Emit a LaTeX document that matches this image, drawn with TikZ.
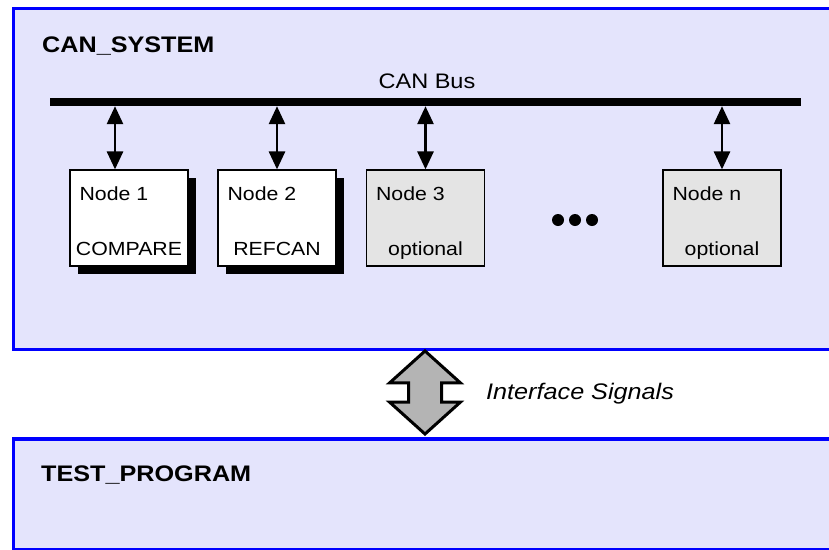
\documentclass[tikz,border=0pt]{standalone}
\usepackage{fontspec}
\setmainfont{Liberation Sans}[FakeStretch=1.12]
\usetikzlibrary{positioning,arrows.meta,shapes.arrows,shadows}
\definecolor{sysfill}{RGB}{228,228,252}
\definecolor{sysline}{RGB}{0,0,255}
\definecolor{optfill}{RGB}{228,228,228}
\definecolor{sigfill}{RGB}{180,180,180}

\begin{document}
\begin{tikzpicture}[x=1pt,y=-1pt,
 sys/.style={draw=sysline,line width=3.5pt,fill=sysfill,anchor=north west,inner sep=0pt},
 ttl/.style={font=\fontsize{22.5}{26}\selectfont\bfseries,anchor=base west,inner sep=0pt},
 uo/.style={draw=black,line width=1.2pt,fill=optfill,minimum width=118pt,minimum height=96pt,inner sep=0pt},
 u/.style={uo,fill=white,drop shadow={shadow xshift=8pt,shadow yshift=-8pt,fill=black,opacity=1}},
 t/.style={font=\fontsize{19}{22}\selectfont,inner sep=0pt},
 a/.style={{Triangle[length=18pt,width=16pt]}-{Triangle[length=18pt,width=16pt]},line width=2.8pt}]
\useasboundingbox (0,0) rectangle (829,549);
\clip (0,0) rectangle (829,549);
\node[sys,minimum width=833.5pt,minimum height=341pt] (cansys) at (11.5,6.5) {};
\node[sys,minimum width=833.5pt,minimum height=110.5pt] (testprog) at (11.5,437) {};
\node[ttl] (canlbl) at (42,52) {CAN\_SYSTEM};
\node[ttl] (testlbl) at (41,481) {TEST\_PROGRAM};
\node[fill=black,minimum width=751pt,minimum height=8pt,inner sep=0pt] (bus) at (425.5,102) {};
\node[t,anchor=base,font=\fontsize{21}{24}\selectfont] (buslbl) at (427,88) {CAN Bus};
\node[u] (n1) at (129,218) {};
\node[u] (n2) at (277,218) {};
\node[uo] (n3) at (425.5,218) {};
\node[uo] (nn) at (722,218) {};
\node[t,anchor=base west,xshift=10pt,yshift=-31pt] (n1a) at (n1.north west) {Node 1};
\node[t,anchor=base,yshift=-86pt] (n1b) at (n1.north) {COMPARE};
\node[t,anchor=base west,xshift=10pt,yshift=-31pt] (n2a) at (n2.north west) {Node 2};
\node[t,anchor=base,yshift=-86pt] (n2b) at (n2.north) {REFCAN};
\node[t,anchor=base west,xshift=10pt,yshift=-31pt] (n3a) at (n3.north west) {Node 3};
\node[t,anchor=base,yshift=-86pt] (n3b) at (n3.north) {optional};
\node[t,anchor=base west,xshift=10pt,yshift=-31pt] (nna) at (nn.north west) {Node n};
\node[t,anchor=base,yshift=-86pt] (nnb) at (nn.north) {optional};
\fill (558,220) circle (6pt) (575,220) circle (6pt) (592,220) circle (6pt);
\draw[a] (bus.south -| 115,0) -- ([xshift=-14pt]n1.north);
\draw[a] (bus.south -| n2.north) -- (n2.north);
\draw[a] (bus.south -| n3.north) -- (n3.north);
\draw[a] (bus.south -| nn.north) -- (nn.north);
\node[double arrow,draw=black,line width=3pt,fill=sigfill,rotate=90,inner xsep=0pt,inner ysep=15pt,
 minimum height=83pt,minimum width=68pt,double arrow head extend=19pt,double arrow tip angle=96] (sig) at (425,392.5) {};
\node[t,anchor=base west,font=\fontsize{22.5}{24}\selectfont\itshape] (siglbl) at (486,399) {Interface Signals};
\end{tikzpicture}
\end{document}
